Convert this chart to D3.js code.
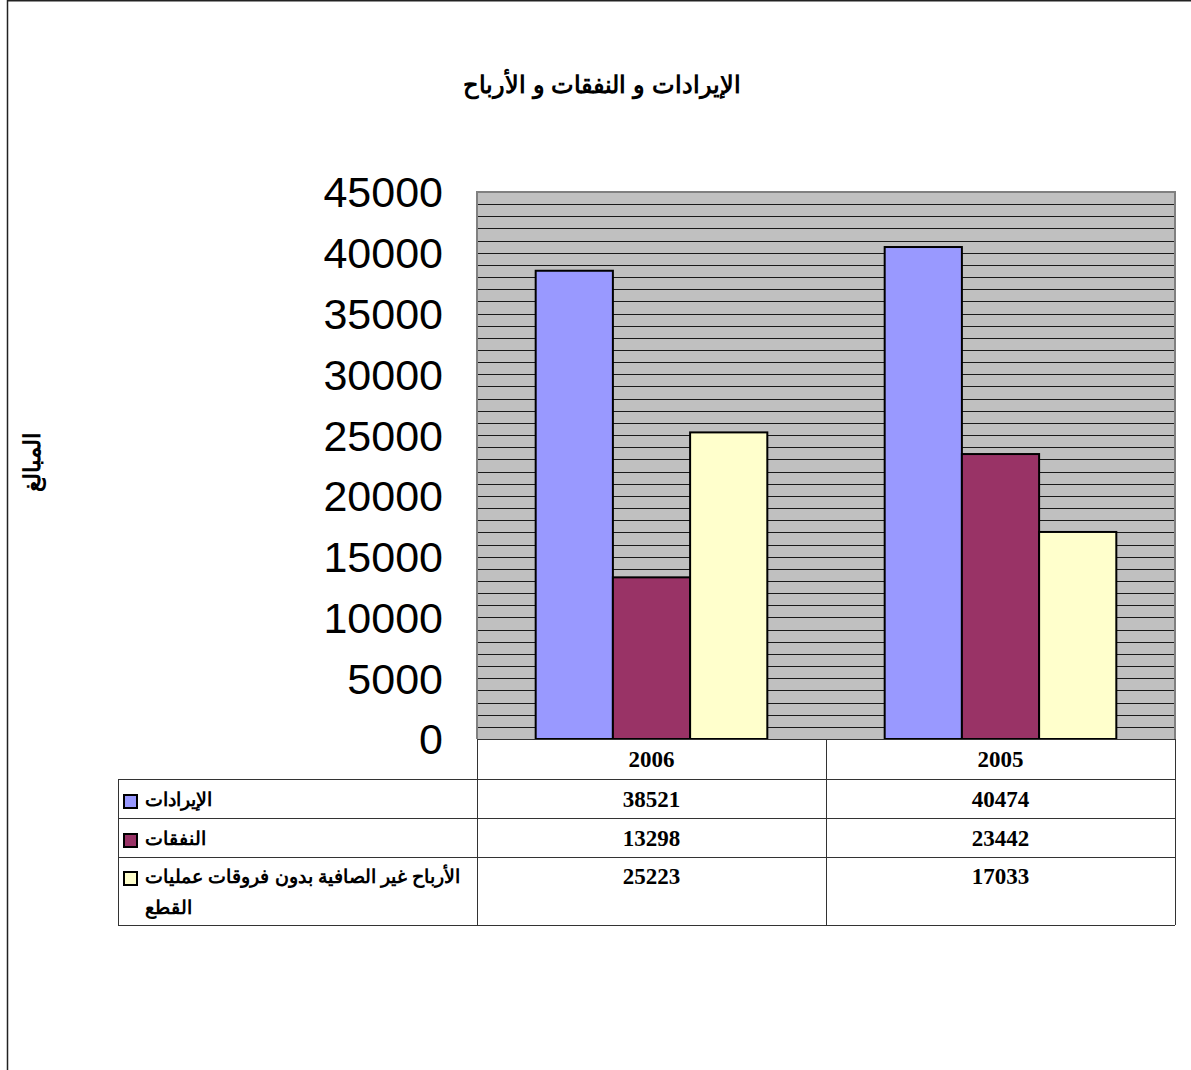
<!DOCTYPE html>
<html>
<head>
<meta charset="utf-8">
<script src="https://cdn.jsdelivr.net/npm/d3@7"></script>
<style>
  body { margin: 0; background: #fff; }
  svg { display: block; }
</style>
</head>
<body>
<div id="chart"></div>
<script>
// data
const categories = ["2006", "2005"];
const seriesNames = ["الإيرادات", "النفقات", "الأرباح غير الصافية بدون فروقات عمليات"];
const seriesNameWrap = ["", "", "القطع"];
const seriesColors = ["#9999ff", "#993366", "#ffffcc"];
const revenues = [38521, 40474];
const expenses = [13298, 23442];
const profits = [25223, 17033];
const yTicks = [0, 5000, 10000, 15000, 20000, 25000, 30000, 35000, 40000, 45000];

const series = [revenues, expenses, profits];

const W = 1191, H = 1070;
const plot = { left: 477, right: 1175, top: 192, bottom: 739 };
const rowY = [779, 818, 857, 925];
const tableLeft = 118;
const arabicFont = "Arial, 'Liberation Sans', sans-serif";

const svg = d3.select("#chart").append("svg").attr("width", W).attr("height", H);

// outer frame (left + top only visible)
svg.append("line").attr("x1", 7.5).attr("x2", 7.5).attr("y1", 0).attr("y2", H)
  .attr("stroke", "#222").attr("stroke-width", 1.5);
svg.append("line").attr("x1", 7).attr("x2", W).attr("y1", 0.75).attr("y2", 0.75)
  .attr("stroke", "#222").attr("stroke-width", 1.5);

// title
svg.append("text").attr("x", 602).attr("y", 93).attr("text-anchor", "middle")
  .style("font-family", arabicFont).style("font-weight", "bold").style("font-size", "24px")
  .text("الإيرادات و النفقات و الأرباح");

// y axis title
svg.append("text").attr("transform", "translate(40,462) rotate(-90)").attr("text-anchor", "middle")
  .style("font-family", arabicFont).style("font-weight", "bold").style("font-size", "23px")
  .text("المبالغ");

const y = d3.scaleLinear().domain([0, 45000]).range([plot.bottom, plot.top]);
const x0 = d3.scaleBand().domain(categories).range([plot.left, plot.right]);
const x1 = d3.scaleBand().domain(d3.range(series.length)).range([0, x0.bandwidth()])
  .paddingInner(0).paddingOuter(0.76);

// plot background
svg.append("rect").attr("x", plot.left).attr("y", plot.top)
  .attr("width", plot.right - plot.left).attr("height", plot.bottom - plot.top)
  .attr("fill", "#c0c0c0");

// gridlines every 1000
svg.append("g").selectAll("line").data(y.ticks(45).filter(v => v > 0 && v < 45000)).join("line")
  .attr("x1", plot.left).attr("x2", plot.right)
  .attr("y1", d => Math.round(y(d)) + 0.5).attr("y2", d => Math.round(y(d)) + 0.5)
  .attr("stroke", "#1a1a1a").attr("stroke-width", 1);

// plot border (gray, top/left/right)
svg.append("path")
  .attr("d", `M${plot.left},${plot.bottom}V${plot.top}H${plot.right}V${plot.bottom}`)
  .attr("fill", "none").attr("stroke", "#808080").attr("stroke-width", 2);

// y tick labels
svg.append("g").selectAll("text").data(yTicks).join("text")
  .attr("x", 443).attr("y", d => y(d)).attr("dy", "0.36em").attr("text-anchor", "end")
  .style("font-family", "Arial, 'Liberation Sans'").style("font-size", "43px")
  .text(d => d);

// bars
const groups = svg.append("g").selectAll("g").data(categories).join("g")
  .attr("transform", d => `translate(${x0(d)},0)`);
groups.selectAll("rect").data((c, ci) => series.map((s, si) => ({ si, v: s[ci] }))).join("rect")
  .attr("x", d => x1(d.si)).attr("width", x1.bandwidth())
  .attr("y", d => y(d.v)).attr("height", d => y(0) - y(d.v))
  .attr("fill", d => seriesColors[d.si]).attr("stroke", "#000").attr("stroke-width", 2);

// data table
const tbl = svg.append("g").attr("stroke", "#333").attr("stroke-width", 1);
tbl.append("line").attr("x1", plot.left).attr("x2", plot.right).attr("y1", plot.bottom + 0.5).attr("y2", plot.bottom + 0.5);
rowY.forEach(ry => {
  tbl.append("line").attr("x1", tableLeft).attr("x2", plot.right).attr("y1", ry + 0.5).attr("y2", ry + 0.5);
});
[plot.left, plot.left + x0.bandwidth(), plot.right].forEach(cx => {
  tbl.append("line").attr("x1", cx + 0.5).attr("x2", cx + 0.5).attr("y1", plot.bottom).attr("y2", rowY[3]);
});
tbl.append("line").attr("x1", tableLeft + 0.5).attr("x2", tableLeft + 0.5).attr("y1", rowY[0]).attr("y2", rowY[3]);

const numStyle = s => s.style("font-family", "'Times New Roman', 'Liberation Serif'")
  .style("font-weight", "bold").style("font-size", "23px").attr("text-anchor", "middle");

// header
svg.append("g").selectAll("text").data(categories).join("text")
  .attr("x", d => x0(d) + x0.bandwidth() / 2).attr("y", 767)
  .call(numStyle).text(d => d);

// value rows
const rowText = [807, 846, 884];
series.forEach((s, si) => {
  svg.append("g").selectAll("text").data(categories).join("text")
    .attr("x", d => x0(d) + x0.bandwidth() / 2).attr("y", rowText[si])
    .call(numStyle).text((d, ci) => s[ci]);

  // legend key
  svg.append("rect").attr("x", 124).attr("y", rowText[si] - 12).attr("width", 13).attr("height", 13)
    .attr("fill", seriesColors[si]).attr("stroke", "#000").attr("stroke-width", 2);
  svg.append("text").attr("x", 145).attr("y", rowText[si] - 1)
    .style("font-family", arabicFont).style("font-weight", "bold").style("font-size", "19px")
    .text(seriesNames[si]);
  if (seriesNameWrap[si]) {
    svg.append("text").attr("x", 145).attr("y", rowText[si] + 30)
      .style("font-family", arabicFont).style("font-weight", "bold").style("font-size", "19px")
      .text(seriesNameWrap[si]);
  }
});
</script>
</body>
</html>
